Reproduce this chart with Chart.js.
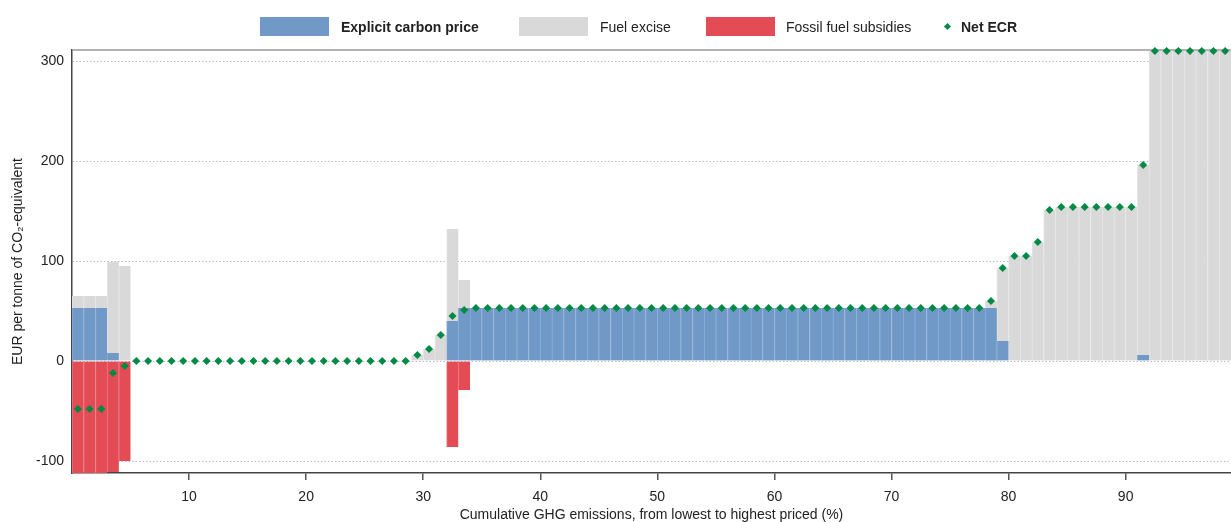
<!DOCTYPE html>
<html>
<head>
<meta charset="utf-8">
<script src="https://cdn.jsdelivr.net/npm/chart.js@4/dist/chart.umd.min.js"></script>
<style>
  body { margin: 0; background: #fff; }
  #wrap { position: relative; width: 1231px; height: 522px; font-family: 'Liberation Sans', Arial, sans-serif; color: #222; }
  #legend { position: absolute; top: 0; left: 0; width: 1231px; height: 50px; font-size: 14px; }
  .sw { position: absolute; top: 17px; height: 19px; }
  .lt { position: absolute; top: 18px; line-height: 18px; white-space: nowrap; }
  .dm { position: absolute; top: 24px; width: 5px; height: 5px; background: #008a45; transform: rotate(45deg); }
  canvas { position: absolute; top: 0; left: 0; }
</style>
</head>
<body>
<div id="wrap">
  <canvas id="c" width="1231" height="522"></canvas>
  <div id="legend">
    <div class="sw" style="left:260px;width:69px;background:#7099c8"></div>
    <div class="lt" style="left:341px;font-weight:bold">Explicit carbon price</div>
    <div class="sw" style="left:519px;width:69px;background:#d9d9d9"></div>
    <div class="lt" style="left:600px">Fuel excise</div>
    <div class="sw" style="left:706px;width:69px;background:#e34c55"></div>
    <div class="lt" style="left:786px">Fossil fuel subsidies</div>
    <div class="dm" style="left:945px"></div>
    <div class="lt" style="left:961px;font-weight:bold">Net ECR</div>
  </div>
</div>
<script>
// Bin midpoints of cumulative GHG emissions (%)
const binMid = [
  0.5, 1.5, 2.5, 3.5, 4.5, 5.5, 6.5, 7.5, 8.5, 9.5,
  10.5, 11.5, 12.5, 13.5, 14.5, 15.5, 16.5, 17.5, 18.5, 19.5,
  20.5, 21.5, 22.5, 23.5, 24.5, 25.5, 26.5, 27.5, 28.5, 29.5,
  30.5, 31.5, 32.5, 33.5, 34.5, 35.5, 36.5, 37.5, 38.5, 39.5,
  40.5, 41.5, 42.5, 43.5, 44.5, 45.5, 46.5, 47.5, 48.5, 49.5,
  50.5, 51.5, 52.5, 53.5, 54.5, 55.5, 56.5, 57.5, 58.5, 59.5,
  60.5, 61.5, 62.5, 63.5, 64.5, 65.5, 66.5, 67.5, 68.5, 69.5,
  70.5, 71.5, 72.5, 73.5, 74.5, 75.5, 76.5, 77.5, 78.5, 79.5,
  80.5, 81.5, 82.5, 83.5, 84.5, 85.5, 86.5, 87.5, 88.5, 89.5,
  90.5, 91.5, 92.5, 93.5, 94.5, 95.5, 96.5, 97.5, 98.5
];

const explicitCarbonPrice = [
  53, 53, 53, 8, 0, 0, 0, 0, 0, 0,
  0, 0, 0, 0, 0, 0, 0, 0, 0, 0,
  0, 0, 0, 0, 0, 0, 0, 0, 0, 0,
  0, 0, 40, 53, 53, 53, 53, 53, 53, 53,
  53, 53, 53, 53, 53, 53, 53, 53, 53, 53,
  53, 53, 53, 53, 53, 53, 53, 53, 53, 53,
  53, 53, 53, 53, 53, 53, 53, 53, 53, 53,
  53, 53, 53, 53, 53, 53, 53, 53, 53, 20,
  0, 0, 0, 0, 0, 0, 0, 0, 0, 0,
  0, 6, 0, 0, 0, 0, 0, 0, 0
];

const fuelExcise = [
  12, 12, 12, 91, 95, 0, 0, 0, 0, 0,
  0, 0, 0, 0, 0, 0, 0, 0, 0, 0,
  0, 0, 0, 0, 0, 0, 0, 0, 0, 6,
  12, 26, 92, 28, 0, 0, 0, 0, 0, 0,
  0, 0, 0, 0, 0, 0, 0, 0, 0, 0,
  0, 0, 0, 0, 0, 0, 0, 0, 0, 0,
  0, 0, 0, 0, 0, 0, 0, 0, 0, 0,
  0, 0, 0, 0, 0, 0, 0, 0, 7, 73,
  105, 105, 119, 151, 154, 154, 154, 154, 154, 154,
  154, 190, 310, 310, 310, 310, 310, 310, 310
];

const fossilFuelSubsidies = [
  -113, -113, -113, -111, -100, 0, 0, 0, 0, 0,
  0, 0, 0, 0, 0, 0, 0, 0, 0, 0,
  0, 0, 0, 0, 0, 0, 0, 0, 0, 0,
  0, 0, -86, -29, 0, 0, 0, 0, 0, 0,
  0, 0, 0, 0, 0, 0, 0, 0, 0, 0,
  0, 0, 0, 0, 0, 0, 0, 0, 0, 0,
  0, 0, 0, 0, 0, 0, 0, 0, 0, 0,
  0, 0, 0, 0, 0, 0, 0, 0, 0, 0,
  0, 0, 0, 0, 0, 0, 0, 0, 0, 0,
  0, 0, 0, 0, 0, 0, 0, 0, 0
];

const netECR = [
  -48, -48, -48, -12, -5, 0, 0, 0, 0, 0,
  0, 0, 0, 0, 0, 0, 0, 0, 0, 0,
  0, 0, 0, 0, 0, 0, 0, 0, 0, 6,
  12, 26, 45, 51, 53, 53, 53, 53, 53, 53,
  53, 53, 53, 53, 53, 53, 53, 53, 53, 53,
  53, 53, 53, 53, 53, 53, 53, 53, 53, 53,
  53, 53, 53, 53, 53, 53, 53, 53, 53, 53,
  53, 53, 53, 53, 53, 53, 53, 53, 60, 93,
  105, 105, 119, 151, 154, 154, 154, 154, 154, 154,
  154, 196, 310, 310, 310, 310, 310, 310, 310
];

const xTickValues = [10, 20, 30, 40, 50, 60, 70, 80, 90];
const yTickValues = [-100, 0, 100, 200, 300];

const pts = arr => binMid.map((x, i) => ({ x: x, y: arr[i] }));

Chart.defaults.font.family = "'Liberation Sans', Arial, sans-serif";
Chart.defaults.font.size = 14;
Chart.defaults.color = '#222';

const frame = {
  id: 'frame',
  beforeDatasetsDraw(chart) {
    const { ctx, chartArea: a } = chart;
    ctx.save();
    ctx.strokeStyle = '#9a9a9a';
    ctx.lineWidth = 1.5;
    ctx.beginPath();
    ctx.moveTo(a.left, a.top);
    ctx.lineTo(a.right, a.top);
    ctx.stroke();
    ctx.restore();
  }
};

const barCommon = {
  type: 'bar',
  stack: 'bars',
  barPercentage: 1,
  categoryPercentage: 1,
  borderWidth: { left: 1, right: 0, top: 0, bottom: 0 },
  borderSkipped: false,
  clip: 0,
  order: 2
};

new Chart(document.getElementById('c'), {
  data: {
    datasets: [
      Object.assign({}, barCommon, { label: 'Explicit carbon price', data: pts(explicitCarbonPrice), backgroundColor: '#7099c8', borderColor: '#8aaed6' }),
      Object.assign({}, barCommon, { label: 'Fuel excise', data: pts(fuelExcise), backgroundColor: '#d9d9d9', borderColor: '#e6e6e6' }),
      Object.assign({}, barCommon, { label: 'Fossil fuel subsidies', data: pts(fossilFuelSubsidies), backgroundColor: '#e34c55', borderColor: '#ea7880' }),
      {
        type: 'line', label: 'Net ECR', data: pts(netECR), stack: 'net',
        showLine: false, pointStyle: 'rectRot', pointRadius: 4, pointHoverRadius: 4,
        backgroundColor: '#008a45', borderColor: '#008a45', borderWidth: 0,
        clip: false, order: 0
      }
    ]
  },
  options: {
    responsive: false,
    animation: false,
    devicePixelRatio: 1,
    layout: { autoPadding: false, padding: { top: 50, left: 0, right: 0, bottom: 0 } },
    plugins: { legend: { display: false }, tooltip: { enabled: false } },
    scales: {
      x: {
        type: 'linear', min: 0, max: 99, stacked: true, offset: false,
        afterBuildTicks: s => { s.ticks = xTickValues.map(v => ({ value: v })); },
        afterFit: s => { s.height = 49; },
        grid: { display: true, offset: false, drawOnChartArea: false, drawTicks: true, tickLength: 7, color: '#555', lineWidth: 1.5 },
        border: { display: true, color: '#444', width: 1.5 },
        ticks: { padding: 9, maxRotation: 0, autoSkip: false, color: '#222' },
        title: { display: true, text: 'Cumulative GHG emissions, from lowest to highest priced (%)', padding: { top: 0, bottom: -2 }, color: '#222' }
      },
      y: {
        min: -112, max: 311, stacked: true,
        afterBuildTicks: s => { s.ticks = yTickValues.map(v => ({ value: v })); },
        afterFit: s => { s.width = 72; },
        grid: { color: '#bcbcbc', drawTicks: false, lineWidth: 1 },
        border: { display: true, color: '#444', width: 1.5, dash: [1.5, 2] },
        ticks: { padding: 8, color: '#222' },
        title: { display: true, text: 'EUR per tonne of CO\u2082-equivalent', padding: { top: 10, bottom: 0 }, color: '#222' }
      }
    }
  },
  plugins: [frame]
});
</script>
</body>
</html>
